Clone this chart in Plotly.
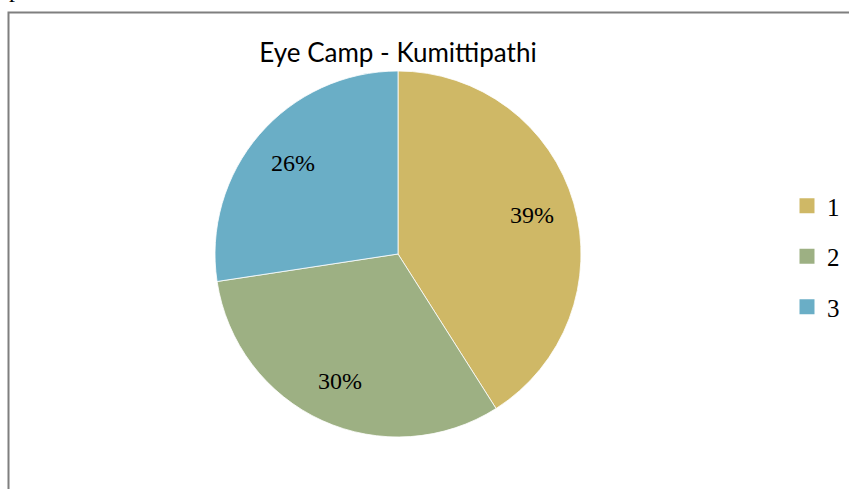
import math
import plotly.graph_objects as go

labels = ["1", "2", "3"]
values = [41.0, 31.6, 27.4]
label_text = ["39%", "30%", "26%"]
colors = ["#CFB866", "#9DB083", "#6AAEC6"]
title = "Eye Camp - Kumittipathi"

W, H = 849, 489
cx, cy, r = 398, 254, 183
label_radius = 0.76
SERIF = "Liberation Serif, Times New Roman, DejaVu Serif, serif"

fig = go.Figure()
fig.add_trace(go.Pie(
    labels=labels, values=values, textinfo="none",
    sort=False, direction="clockwise", rotation=0,
    marker=dict(colors=colors, line=dict(color="#FFFFFF", width=0.8)),
    domain=dict(x=[(cx - r) / W, (cx + r) / W], y=[(H - cy - r) / H, (H - cy + r) / H]),
    hoverinfo="label+percent", showlegend=False,
))

# legend entries (one per category)
for lab, col in zip(labels, colors):
    fig.add_trace(go.Scatter(x=[None], y=[None], mode="markers", name=lab,
                             legendgroup=lab,
                             marker=dict(symbol="square", size=15, color=col)))

# data labels placed at the middle angle of each slice
total = sum(values)
annotations = []
acc = 0.0
for v, t in zip(values, label_text):
    mid = (acc + v / 2) / total * 2 * math.pi
    acc += v
    px = cx + label_radius * r * math.sin(mid)
    py = cy - label_radius * r * math.cos(mid)
    annotations.append(dict(text=t, xref="paper", yref="paper", x=px / W, y=1 - py / H,
                            xanchor="center", yanchor="middle", showarrow=False,
                            font=dict(family=SERIF, size=24, color="#000000")))
annotations.append(dict(text="p", xref="paper", yref="paper", x=7 / W, y=1 - 4 / H,
                        xanchor="left", yanchor="bottom", showarrow=False,
                        font=dict(family=SERIF, size=24, color="#000000")))

fig.update_layout(
    width=W, height=H,
    margin=dict(l=0, r=0, t=0, b=0),
    paper_bgcolor="#FFFFFF", plot_bgcolor="#FFFFFF",
    xaxis=dict(visible=False), yaxis=dict(visible=False),
    title=dict(text=title, x=cx / W, xanchor="center", y=1 - 53 / H, yanchor="middle",
               font=dict(family="Lato", size=26, color="#000000")),
    showlegend=True,
    legend=dict(x=787 / W, y=1 - 183 / H, xanchor="left", yanchor="top",
                font=dict(family=SERIF, size=25, color="#000000"),
                tracegroupgap=15, itemwidth=30, bgcolor="rgba(0,0,0,0)"),
    shapes=[dict(type="rect", xref="paper", yref="paper",
                 x0=8.5 / W, x1=1.05, y0=-0.05, y1=1 - 12.5 / H,
                 line=dict(color="#7F7F7F", width=2), fillcolor="rgba(0,0,0,0)")],
    annotations=annotations,
)

fig.write_html("out.html", config={"displayModeBar": False},
               post_script="document.body.style.margin='0';document.body.style.overflow='hidden';")
